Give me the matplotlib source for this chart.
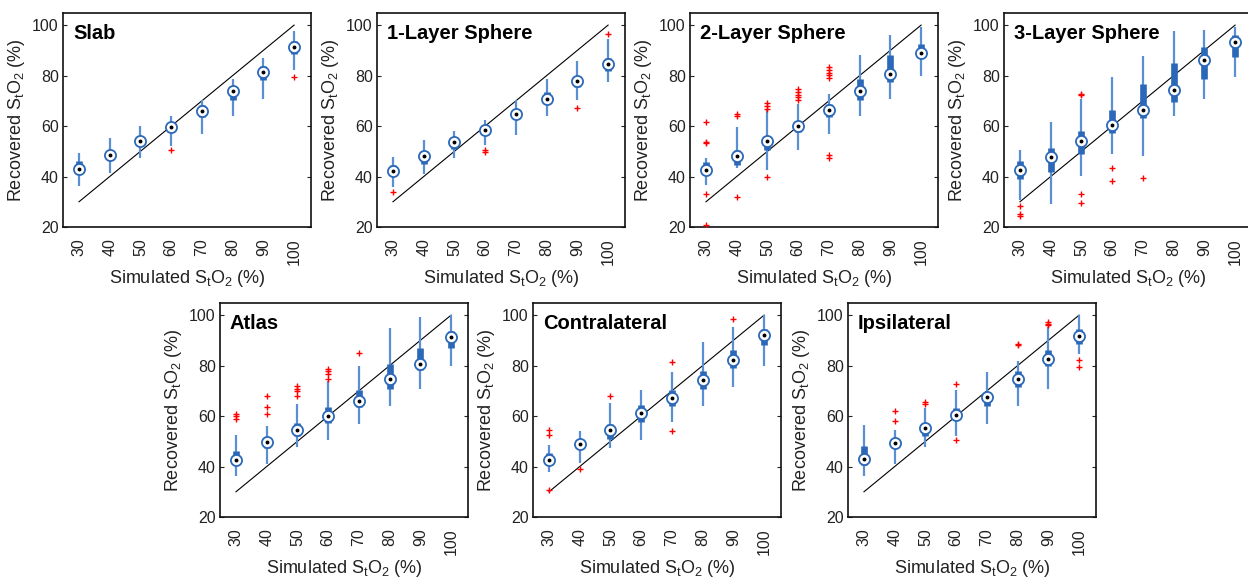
import matplotlib
matplotlib.use("Agg")
import matplotlib.pyplot as plt

plt.rcParams["font.family"] = ["Liberation Sans", "DejaVu Sans"]
plt.rcParams["mathtext.fontset"] = "custom"
plt.rcParams["mathtext.rm"] = "Liberation Sans"

simulated = [30, 40, 50, 60, 70, 80, 90, 100]
tick_labels = ["30", "40", "50", "60", "70", "80", "90", "100"]

# per panel: median, box (q1, q3), whisker ends, outliers per category
slab_med = [43.1, 48.4, 54.2, 59.7, 66.0, 73.8, 81.3, 91.3]
slab_q1 = [41.5, 46.4, 52.0, 57.7, 63.4, 70.5, 78.4, 88.7]
slab_q3 = [46.2, 50.4, 54.6, 61.0, 68.3, 75.8, 83.7, 93.8]
slab_lo = [36.3, 41.4, 47.5, 52.1, 57.0, 63.9, 70.9, 82.1]
slab_hi = [49.3, 55.4, 60.2, 64.0, 70.2, 78.8, 86.8, 97.7]
slab_out = [[], [], [], [50.4], [], [], [], [79.6]]

one_med = [42.2, 48.3, 53.7, 58.6, 64.6, 70.6, 77.8, 84.5]
one_q1 = [41.2, 45.1, 51.1, 57.0, 63.0, 70.2, 75.3, 81.9]
one_q3 = [44.7, 49.7, 54.4, 59.9, 66.9, 73.5, 79.8, 86.8]
one_lo = [35.9, 41.2, 47.5, 52.4, 56.4, 63.9, 70.2, 77.6]
one_hi = [47.8, 54.6, 57.9, 62.3, 70.2, 78.8, 85.8, 94.3]
one_out = [[34.0], [], [], [50.4, 49.9], [], [], [67.2], [96.4]]

two_med = [42.5, 48.0, 54.0, 59.9, 66.5, 73.8, 80.8, 89.0]
two_q1 = [41.0, 44.5, 50.4, 57.7, 63.4, 70.5, 77.5, 86.8]
two_q3 = [45.8, 50.4, 56.0, 62.0, 68.6, 78.6, 88.1, 92.7]
two_lo = [36.5, 43.5, 42.5, 50.4, 56.8, 63.9, 70.9, 79.8]
two_hi = [47.5, 59.7, 66.3, 68.6, 72.9, 88.1, 96.0, 99.3]
two_out = [[61.6, 53.7, 53.1, 33.2, 20.9], [64.9, 63.9, 31.9],
           [69.2, 67.9, 66.9, 39.8], [74.5, 73.6, 72.5, 71.6, 70.5],
           [83.5, 82.2, 81.1, 80.2, 79.2, 48.4, 47.4], [], [], []]

three_med = [42.5, 47.8, 54.0, 60.3, 66.3, 74.2, 86.1, 93.4]
three_q1 = [39.2, 41.8, 48.8, 57.4, 63.2, 69.6, 78.6, 87.4]
three_q3 = [46.0, 51.5, 57.9, 66.5, 76.6, 84.8, 91.4, 96.0]
three_lo = [30.8, 29.3, 40.1, 49.1, 48.0, 63.9, 70.6, 79.5]
three_hi = [50.7, 61.6, 70.9, 79.5, 87.7, 97.7, 98.0, 99.3]
three_out = [[28.2, 25.3, 24.5], [], [72.6, 72.2, 33.0, 29.5], [43.5, 38.2],
             [39.6], [], [], []]

atlas_med = [42.7, 49.6, 54.5, 59.9, 65.9, 74.7, 80.8, 91.4]
atlas_q1 = [41.5, 47.4, 52.0, 57.3, 63.6, 70.8, 78.4, 87.0]
atlas_q3 = [46.3, 51.7, 57.3, 63.6, 70.5, 80.8, 87.0, 93.6]
atlas_lo = [36.1, 41.2, 47.8, 50.4, 56.9, 63.9, 70.9, 79.8]
atlas_hi = [52.3, 56.0, 64.6, 73.8, 79.8, 94.7, 99.3, 100.0]
atlas_out = [[61.0, 60.2, 58.9], [68.1, 63.6, 60.8], [71.8, 70.9, 69.8, 67.9],
             [78.8, 77.8, 76.8, 74.5], [84.8], [], [], []]

contra_med = [42.7, 49.0, 54.5, 61.2, 67.1, 74.2, 82.1, 92.0]
contra_q1 = [41.5, 47.4, 50.9, 57.5, 63.9, 70.8, 79.1, 88.3]
contra_q3 = [45.4, 50.0, 57.0, 64.2, 70.5, 78.0, 86.0, 94.3]
contra_lo = [37.7, 41.4, 47.4, 50.4, 57.5, 63.9, 71.4, 79.8]
contra_hi = [48.7, 54.0, 65.2, 70.5, 77.4, 89.4, 95.2, 100.0]
contra_out = [[54.6, 52.4, 30.8], [39.0], [67.9], [], [81.6, 54.0], [], [98.3], []]

ipsi_med = [43.0, 49.3, 55.3, 60.5, 67.5, 74.5, 82.8, 91.7]
ipsi_q1 = [40.5, 47.8, 52.0, 59.3, 63.9, 71.6, 79.8, 88.7]
ipsi_q3 = [48.0, 51.3, 57.3, 63.2, 69.4, 77.8, 86.0, 94.3]
ipsi_lo = [36.1, 41.2, 47.6, 52.0, 56.9, 63.9, 70.9, 84.4]
ipsi_hi = [56.6, 54.6, 63.2, 70.5, 77.4, 81.7, 95.4, 100.0]
ipsi_out = [[], [61.9, 57.9], [65.5, 64.9], [72.9, 50.4], [], [88.7, 88.1],
            [97.3, 96.5, 95.9], [82.4, 79.5]]

panels = [
    ("Slab", slab_med, slab_q1, slab_q3, slab_lo, slab_hi, slab_out),
    ("1-Layer Sphere", one_med, one_q1, one_q3, one_lo, one_hi, one_out),
    ("2-Layer Sphere", two_med, two_q1, two_q3, two_lo, two_hi, two_out),
    ("3-Layer Sphere", three_med, three_q1, three_q3, three_lo, three_hi, three_out),
    ("Atlas", atlas_med, atlas_q1, atlas_q3, atlas_lo, atlas_hi, atlas_out),
    ("Contralateral", contra_med, contra_q1, contra_q3, contra_lo, contra_hi, contra_out),
    ("Ipsilateral", ipsi_med, ipsi_q1, ipsi_q3, ipsi_lo, ipsi_hi, ipsi_out),
]

# axes rectangles in pixels (left, top) of a 1248x577 canvas
W, H = 1248, 577
AW, AH = 248, 214
corners = [(63, 13), (377, 13), (690, 13), (1004, 13),
           (220, 303), (533, 303), (848, 303)]

WHISK = "#5b8fd3"
BOX = "#2c68b8"

fig = plt.figure(figsize=(W / 100, H / 100), dpi=100)
pos = list(range(1, len(simulated) + 1))

for (name, med, q1, q3, lo, hi, out), (px, py) in zip(panels, corners):
    ax = fig.add_axes([px / W, (H - py - AH) / H, AW / W, AH / H])
    ax.plot(pos, simulated, color="black", lw=0.8, zorder=1)
    ax.vlines(pos, lo, hi, color=WHISK, lw=1.6, zorder=2)
    ax.vlines(pos, q1, q3, color=BOX, lw=4.8, zorder=3)
    for p, vals in zip(pos, out):
        if vals:
            ax.plot([p] * len(vals), vals, "+", color="red", ms=5, mew=1.0, zorder=4)
    ax.plot(pos, med, "o", ms=8, mfc="white", mec=BOX, mew=1.3, zorder=5)
    ax.plot(pos, med, "o", ms=1.8, color="black", zorder=6)

    ax.set_xlim(0.48, 8.55)
    ax.set_ylim(20, 104.8)
    ax.set_yticks([20, 40, 60, 80, 100])
    ax.set_xticks(pos)
    ax.set_xticklabels(tick_labels, rotation=90)
    ax.tick_params(axis="y", direction="in", right=True, length=3, labelsize=11.5,
                   pad=3, colors="#222222", labelcolor="#222222")
    ax.tick_params(axis="x", length=0, labelsize=11.5, pad=8, labelcolor="#222222")
    for s in ax.spines.values():
        s.set_linewidth(1.2)
        s.set_color("#111111")
    ax.set_ylabel(r"Recovered S$_\mathregular{t}$O$_\mathregular{2}$ (%)",
                  fontsize=13, color="#222222", labelpad=4)
    ax.set_xlabel(r"Simulated S$_\mathregular{t}$O$_\mathregular{2}$ (%)",
                  fontsize=13, color="#222222", labelpad=2)
    ax.text(0.04, 0.905, name, transform=ax.transAxes, fontsize=14.5,
            fontweight="bold", va="center", ha="left")

fig.savefig("out.png", dpi=100)
